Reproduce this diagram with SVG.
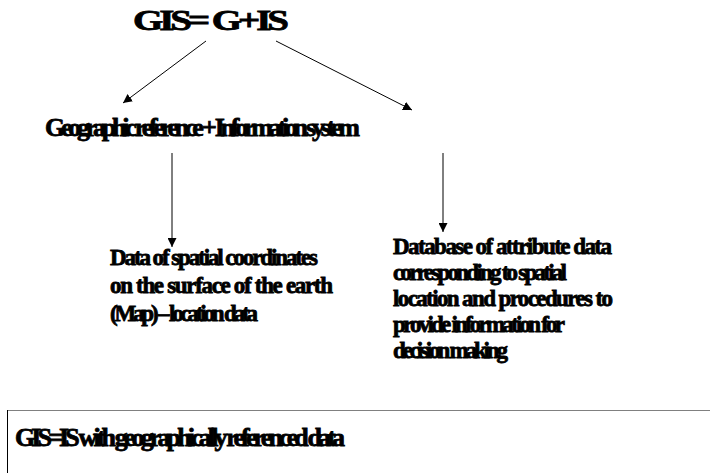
<svg xmlns="http://www.w3.org/2000/svg" width="710" height="473" viewBox="0 0 710 473">
<style>
.t{font-family:"Liberation Serif","Times New Roman",serif;font-weight:bold;fill:#000;stroke:#000;stroke-width:0.8px}
.big{font-size:29px;letter-spacing:-3px}
.mid{font-size:26px}
.sm{font-size:23px}
.c{stroke:#000;stroke-width:1;fill:none}
</style>
<defs>
<marker id="ah" viewBox="0 0 10 10" refX="10" refY="5" markerWidth="9" markerHeight="9" markerUnits="userSpaceOnUse" orient="auto">
<path d="M0,0 L10,5 L0,10 z" fill="#000"/>
</marker>
</defs>
<rect width="710" height="473" fill="#fff"/>
<g id="title">
<text class="t big" x="133" y="30" textLength="152" lengthAdjust="spacingAndGlyphs">GIS= G+IS</text>
</g>
<g id="geo-info">
<text class="t mid" x="45" y="136" textLength="315" lengthAdjust="spacing">Geographic reference + Information system</text>
</g>
<g id="spatial">
<text class="t sm" x="110" y="265" textLength="208" lengthAdjust="spacing">Data of spatial coordinates</text>
<text class="t sm" x="110" y="293" textLength="223" lengthAdjust="spacing">on the surface of the earth</text>
<text class="t sm" x="110" y="321" textLength="148" lengthAdjust="spacing">(Map) – location data</text>
</g>
<g id="database">
<text class="t sm" x="393" y="254" textLength="219" lengthAdjust="spacing">Database of attribute data</text>
<text class="t sm" x="393" y="280" textLength="174" lengthAdjust="spacing">corresponding to spatial</text>
<text class="t sm" x="393" y="306" textLength="220" lengthAdjust="spacing">location and procedures to</text>
<text class="t sm" x="393" y="332" textLength="172" lengthAdjust="spacing">provide information for</text>
<text class="t sm" x="393" y="358" textLength="115" lengthAdjust="spacing">decision making</text>
</g>
<g id="summary">
<rect x="7.5" y="410.5" width="710" height="80" fill="none" stroke="#808080" stroke-width="1"/>
<line x1="7.5" y1="410" x2="7.5" y2="473" stroke="#000" stroke-width="1"/>
<text class="t mid" x="15" y="446" textLength="330" lengthAdjust="spacing">GIS=IS with geographically referenced data</text>
</g>
<g id="connectors">
<line class="c" x1="206" y1="41" x2="123" y2="103" marker-end="url(#ah)"/>
<line class="c" x1="276" y1="41" x2="412" y2="110" marker-end="url(#ah)"/>
<line class="c" x1="172" y1="153" x2="172" y2="247" marker-end="url(#ah)"/>
<line class="c" x1="443" y1="153" x2="443" y2="232" marker-end="url(#ah)"/>
</g>
</svg>
